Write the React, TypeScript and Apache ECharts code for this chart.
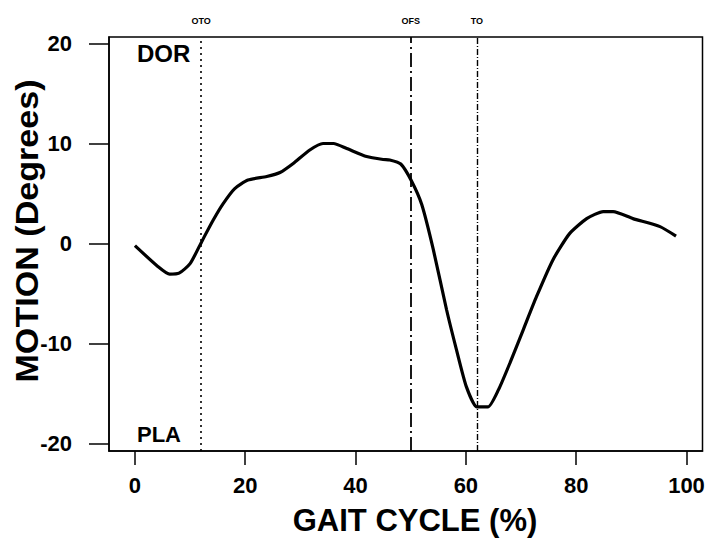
import React, { useEffect, useRef } from "react";
import * as echarts from "echarts";

const gaitPct = [0, 4.2, 6.3, 8.0, 10, 12.2, 14.2, 16, 18.1, 20.5, 23.9, 26.3, 28.7, 31.7, 34.1, 36, 38.4, 42, 45, 46.2, 48.2, 50.1, 52, 54.1, 56.5, 58.3, 60.1, 62, 64, 65.9, 68, 70.4, 72.8, 75.8, 78.8, 81.9, 84.9, 86.7, 90.3, 95.2, 98.1];
const motionDeg = [-0.2, -2.3, -3.05, -2.95, -2.0, 0.3, 2.36, 4.0, 5.5, 6.35, 6.7, 7.1, 8.0, 9.35, 10.0, 10.0, 9.5, 8.7, 8.4, 8.35, 7.95, 6.3, 3.9, -0.6, -6.6, -10.6, -14.3, -16.3, -16.3, -14.6, -11.9, -8.6, -5.3, -1.6, 1.0, 2.5, 3.2, 3.2, 2.5, 1.7, 0.75];

const xTicks = [0, 20, 40, 60, 80, 100];
const yTicks = [-20, -10, 0, 10, 20];

const eventNames = ["OTO", "OFS", "TO"];
const eventPct = [12, 50, 62];
const eventDash = [[2, 4], [14, 4, 2, 4], [6, 2, 1, 2]];
const eventWidth = [1.6, 1.8, 1.4];

const regionLabels = ["DOR", "PLA"];
const xTitle = "GAIT CYCLE (%)";
const yTitle = "MOTION (Degrees)";

const FONT = "'Liberation Sans', Arial, sans-serif";

export default function App() {
  const ref = useRef<HTMLDivElement>(null);
  useEffect(() => {
    if (!ref.current) return;
    const chart = echarts.init(ref.current, null, { renderer: "svg" });
    const data = gaitPct.map((x, i) => [x, motionDeg[i]]);
    chart.setOption({
      animation: false,
      backgroundColor: "#ffffff",
      grid: {
        left: 109,
        right: 5.5,
        top: 37,
        bottom: 94,
        show: true,
        borderColor: "#000",
        borderWidth: 1.5,
        backgroundColor: "transparent",
      },
      xAxis: {
        type: "value",
        min: -4.7,
        max: 102.9,
        axisLine: { show: true, onZero: false, lineStyle: { color: "#000", width: 1.5 } },
        axisTick: { show: true, customValues: xTicks, length: 14, lineStyle: { color: "#000", width: 1.5 } },
        axisLabel: {
          customValues: xTicks,
          margin: 23,
          fontFamily: FONT,
          fontWeight: "bold",
          fontSize: 22,
          color: "#000",
        },
        splitLine: { show: false },
      },
      yAxis: {
        type: "value",
        min: -20.7,
        max: 20.63,
        axisLine: { show: true, onZero: false, lineStyle: { color: "#000", width: 1.5 } },
        axisTick: { show: true, customValues: yTicks, length: 20, lineStyle: { color: "#000", width: 1.5 } },
        axisLabel: {
          customValues: yTicks,
          margin: 37,
          fontFamily: FONT,
          fontWeight: "bold",
          fontSize: 22,
          color: "#000",
        },
        splitLine: { show: false },
      },
      graphic: [
        {
          type: "text",
          left: 137,
          top: 41,
          style: { text: regionLabels[0], fontFamily: FONT, fontWeight: "bold", fontSize: 24, fill: "#000" },
        },
        {
          type: "text",
          left: 137,
          top: 423,
          style: { text: regionLabels[1], fontFamily: FONT, fontWeight: "bold", fontSize: 22, fill: "#000" },
        },
        {
          type: "text",
          x: 415,
          y: 520,
          style: {
            text: xTitle,
            fontFamily: FONT,
            fontWeight: "bold",
            fontSize: 31,
            fill: "#000",
            align: "center",
            verticalAlign: "middle",
          },
        },
        {
          type: "text",
          x: 28,
          y: 231,
          rotation: Math.PI / 2,
          scaleX: 1.1,
          style: {
            text: yTitle,
            fontFamily: FONT,
            fontWeight: "bold",
            fontSize: 31,
            fill: "#000",
            align: "center",
            verticalAlign: "middle",
          },
        },
      ],
      series: [
        {
          type: "line",
          data,
          symbol: "none",
          smooth: 0.2,
          lineStyle: { color: "#000", width: 3.2 },
          markLine: {
            silent: true,
            symbol: ["none", "none"],
            label: {
              show: true,
              position: "end",
              formatter: "{b}",
              distance: 12,
              fontFamily: FONT,
              fontWeight: "bold",
              fontSize: 9,
              color: "#000",
            },
            data: eventNames.map((n, i) => ({
              name: n,
              xAxis: eventPct[i],
              lineStyle: { color: "#000", width: eventWidth[i], type: eventDash[i] },
            })),
          },
        },
      ],
    });
    return () => chart.dispose();
  }, []);
  return (
    <div
      ref={ref}
      style={{ position: "fixed", left: 0, top: 0, width: 708, height: 545 }}
    />
  );
}
